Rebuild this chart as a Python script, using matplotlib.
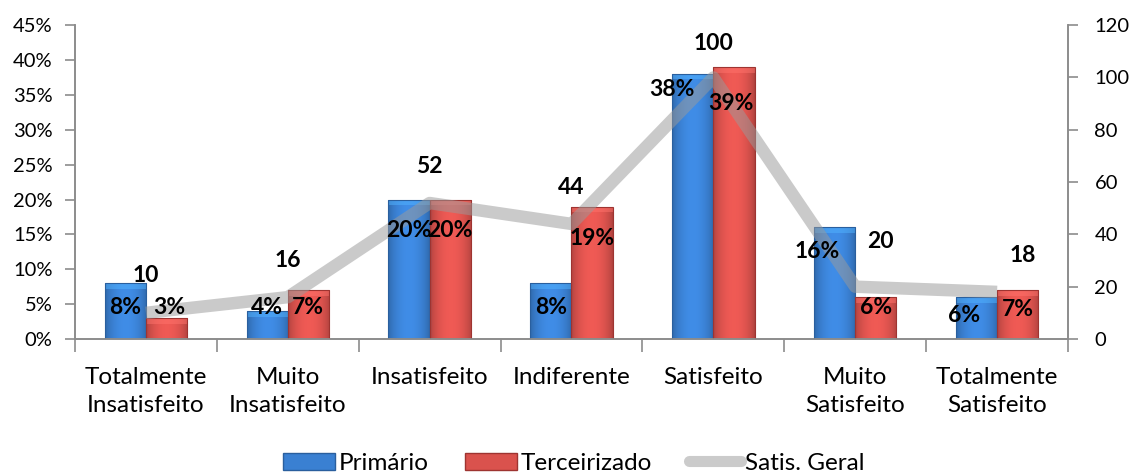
import numpy as np
import matplotlib
matplotlib.use("Agg")
import matplotlib.pyplot as plt
from matplotlib.patches import Patch
from matplotlib.lines import Line2D

plt.rcParams['font.family'] = ['Lato', 'DejaVu Sans']

categorias = ['Totalmente\nInsatisfeito', 'Muito\nInsatisfeito', 'Insatisfeito',
              'Indiferente', 'Satisfeito', 'Muito\nSatisfeito', 'Totalmente\nSatisfeito']
primario = [8, 4, 20, 8, 38, 16, 6]
terceirizado = [3, 7, 20, 19, 39, 6, 7]
satis_geral = [10, 16, 52, 44, 100, 20, 18]

# label nudges (pixels) for the bar and line labels
off_prim = [(0, -24), (0, 4), (0, -31), (0, -24), (-21, -16), (-17, -24), (-12, -18)]
off_terc = [(3, 11), (0, -17), (0, -31), (0, -32), (-3, -36), (0, -10), (0, -19)]
off_line = [(0, 37), (0, 37), (0, 37), (0, 36), (0, 34), (25, 45), (26, 36)]

AZUL = '#3a80d2'
VERMELHO = '#da524d'
EIXO = '#8c8c8c'

fig = plt.figure(figsize=(11.29, 4.75), dpi=100)
ax = fig.add_axes([0.0664, 0.2863, 0.8796, 0.6607])
ax2 = ax.twinx()

x = np.arange(len(categorias))
w = 0.29


def gradient_bars(bars, base):
    # rounded shading across the bar plus a lighter bevel at the top
    rgb = np.array(matplotlib.colors.to_rgb(base))
    t = np.linspace(0, 1, 64)
    shade = 0.8 + 0.3 * np.sin(np.pi * t) ** 0.7
    img = np.clip(rgb[None, :] * shade[:, None], 0, 1)
    for b in bars:
        x0, y0 = b.get_x(), b.get_y()
        bw, bh = b.get_width(), b.get_height()
        ny = max(int(bh * 7), 4)
        full = np.repeat(img[None, :, :], ny, axis=0)
        top = min(6, ny // 2)
        full[:top] = np.clip(full[:top] * 0.5 + 0.5 * np.clip(rgb * 1.4, 0, 1), 0, 1)
        im = ax.imshow(full, extent=[x0, x0 + bw, y0, y0 + bh], aspect='auto',
                       origin='upper', zorder=2, interpolation='bilinear')
        im.set_clip_path(b)
        b.set_facecolor('none')


b1 = ax.bar(x - w / 2, primario, w, color=AZUL, edgecolor='#2a5f9e', linewidth=0.8, zorder=3)
b2 = ax.bar(x + w / 2, terceirizado, w, color=VERMELHO, edgecolor='#9e3431', linewidth=0.8, zorder=3)
gradient_bars(b1, AZUL)
gradient_bars(b2, VERMELHO)

ax.set_xlim(-0.5, len(categorias) - 0.5)
ax.set_ylim(0, 45)
ax.set_yticks(np.arange(0, 46, 5))
ax.set_yticklabels([f'{v}%' for v in range(0, 46, 5)])
ax.set_xticks(x)
ax.set_xticklabels(categorias, linespacing=1.4)
ax.set_xticks(np.arange(-0.5, len(categorias)), minor=True)
ax.tick_params(axis='x', which='major', length=0, pad=20, labelsize=17.5)
ax.tick_params(axis='x', which='minor', length=9, color=EIXO, width=1.2)
ax.tick_params(axis='y', length=7, color=EIXO, width=1.2, labelsize=14.5, pad=9)

# translucent grey line, so the bars show through where it crosses them
ax2.plot(x, satis_geral, color='#9a9a9a', linewidth=9, alpha=0.52,
         solid_capstyle='butt', zorder=5)
ax2.set_ylim(0, 120)
ax2.set_yticks(np.arange(0, 121, 20))
ax2.tick_params(axis='y', length=7, color=EIXO, width=1.2, labelsize=14.5, pad=12)

for a in (ax, ax2):
    a.spines['top'].set_visible(False)
    for s in ('left', 'right', 'bottom'):
        a.spines[s].set_color(EIXO)
        a.spines[s].set_linewidth(1.2)

for i in x:
    ax2.annotate(f'{primario[i]}%', (i - w / 2, primario[i] * 120 / 45),
                 xytext=off_prim[i], textcoords='offset pixels',
                 ha='center', va='center', fontsize=16.5, fontweight='bold', zorder=6)
    ax2.annotate(f'{terceirizado[i]}%', (i + w / 2, terceirizado[i] * 120 / 45),
                 xytext=off_terc[i], textcoords='offset pixels',
                 ha='center', va='center', fontsize=16.5, fontweight='bold', zorder=6)
    ax2.annotate(f'{satis_geral[i]}', (i, satis_geral[i]),
                 xytext=off_line[i], textcoords='offset pixels',
                 ha='center', va='center', fontsize=16.5, fontweight='bold', zorder=6)

handles = [Patch(facecolor=AZUL, edgecolor='#2a5f9e'),
           Patch(facecolor=VERMELHO, edgecolor='#9e3431'),
           Line2D([0], [0], color='#cbcbcb', linewidth=8, solid_capstyle='round')]
fig.legend(handles, ['Primário', 'Terceirizado', 'Satis. Geral'],
           loc='center', bbox_to_anchor=(0.508, 0.025), ncol=3, frameon=False,
           fontsize=17.5, handlelength=2.15, handleheight=0.7, handletextpad=0.15,
           columnspacing=1.5)

fig.savefig('out.png', dpi=100)
